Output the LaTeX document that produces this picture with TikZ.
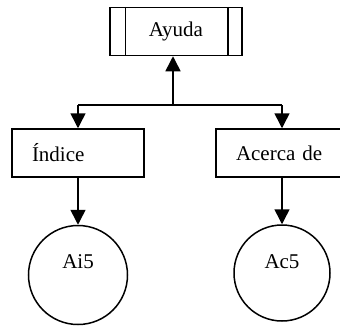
\documentclass[tikz,border=0pt]{standalone}
\usepackage{fontspec}
\setmainfont{Liberation Serif}
\usetikzlibrary{arrows.meta}
\tikzstyle{caja}=[rectangle, draw, line width=1.5pt, minimum width=132pt, minimum height=48pt, inner xsep=20pt, text width=92pt, align=left]
\tikzstyle{modulo}=[caja, inner xsep=0pt, text width=132pt, align=center]
\tikzstyle{conector}=[circle, draw, line width=1.5pt, inner sep=0pt]
\tikzstyle{flecha}=[line width=1.5pt, -{Triangle[length=15pt,width=15pt]}]

\begin{document}
\begin{tikzpicture}[x=1pt, y=-1pt, font=\fontsize{21}{24}\selectfont]
  \useasboundingbox (0,0) rectangle (340,325);
  \clip (0,0) rectangle (340,325);
  \node[modulo] (ayuda) at (176,31.5) {Ayuda};
  \draw[line width=1.5pt] ([xshift=16pt]ayuda.north west) -- ([xshift=16pt]ayuda.south west)
                          ([xshift=-15pt]ayuda.north east) -- ([xshift=-15pt]ayuda.south east);
  \node[caja] (indice) at (78,153) {Índice};
  \node[caja, text width=104pt] (acerca) at (288,153) {Acerca de};
  \node[conector, minimum size=99pt, label={[yshift=13pt]center:Ai5}] (ai5) at (78,275) {};
  \node[conector, minimum size=96pt, label={[yshift=11pt]center:Ac5}] (ac5) at (282,273) {};
  \coordinate (bus) at (173,105);
  % lineas
  \draw[flecha] (bus) -- (bus |- ayuda.south);
  \draw[line width=1.5pt] (indice.north |- bus) -- (ac5.north |- bus);
  \draw[flecha] (indice.north |- bus) -- (indice.north);
  \draw[flecha] (ac5.north |- bus) -- (ac5.north |- acerca.north);
  \draw[flecha] (indice.south) -- (ai5.north);
  \draw[flecha] (ac5.north |- acerca.south) -- (ac5.north);
\end{tikzpicture}
\end{document}
